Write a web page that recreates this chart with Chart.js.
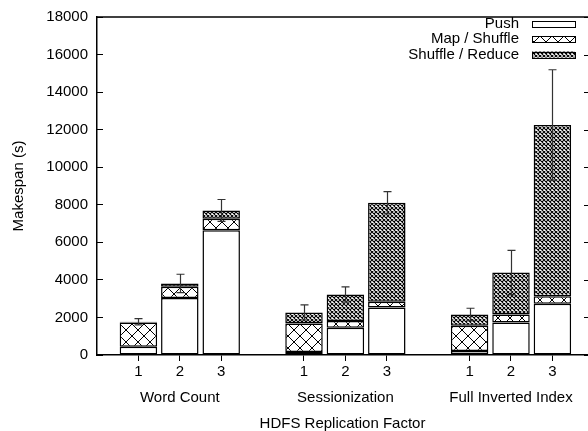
<!DOCTYPE html>
<html>
<head>
<meta charset="utf-8">
<script src="https://cdn.jsdelivr.net/npm/chart.js@4.4.1/dist/chart.umd.min.js"></script>
<style>
html,body{margin:0;padding:0;background:#fff;overflow:hidden;}
#wrap{width:588px;height:431px;position:relative;}
</style>
</head>
<body>
<div id="wrap"><canvas id="makespanChart"></canvas></div>
<script>

/* ==========================================
   DATA
========================================== */

const workloads = ["Word Count", "Sessionization", "Full Inverted Index"];
const replicas = ["1", "2", "3"];

// slot on the x axis for each bar (gap slot between workloads)
const slots = [0, 1, 2, 4, 5, 6, 8, 9, 10];
const groupSlots = [1, 5, 9];

const push          = [440, 3040, 6640, 160, 1450, 2530, 210, 1735, 2725];
const mapShuffle    = [1290, 590, 620, 1520, 355, 300, 1345, 425, 405];
const shuffleReduce = [40, 180, 440, 585, 1418, 5280, 605, 2230, 9120];
const errors        = [170, 490, 580, 400, 410, 590, 330, 1180, 2940];

const yTicks = [0, 2000, 4000, 6000, 8000, 10000, 12000, 14000, 16000, 18000];


/* ==========================================
   HATCH PATTERNS
========================================== */

function hatch(size, width){

const c = document.createElement("canvas");
c.width = size;
c.height = size;
const g = c.getContext("2d");

g.fillStyle = "#fff";
g.fillRect(0, 0, size, size);
g.strokeStyle = "#000";
g.lineWidth = width;
g.beginPath();
g.moveTo(0, 0); g.lineTo(size, size);
g.moveTo(size, 0); g.lineTo(0, size);
g.stroke();

return g.createPattern(c, "repeat");

}

const crossLarge = hatch(12, 1);
const crossSmall = hatch(4, 1.1);

const fontFamily = "'Liberation Sans', Arial, sans-serif";
const font = {family: fontFamily, size: 15};


/* ==========================================
   PLUGINS: ERROR BARS, FRAME, LEGEND
========================================== */

const errorBars = {
id: "errorBars",
afterDatasetsDraw(chart){

const {ctx, scales:{x, y}} = chart;

ctx.save();
ctx.strokeStyle = "#333";
ctx.lineWidth = 1.2;

slots.forEach((s, i) => {

const total = push[i] + mapShuffle[i] + shuffleReduce[i];
const px = Math.round(x.getPixelForValue(s)) + 0.5;
const top = y.getPixelForValue(total + errors[i]);
const bot = y.getPixelForValue(total - errors[i]);

ctx.beginPath();
ctx.moveTo(px, top); ctx.lineTo(px, bot);
ctx.moveTo(px - 4, top); ctx.lineTo(px + 4, top);
ctx.moveTo(px - 4, bot); ctx.lineTo(px + 4, bot);
ctx.stroke();

});

ctx.restore();

}
};

const frame = {
id: "frame",
afterDraw(chart){

const {ctx, chartArea:a, scales:{y}} = chart;

ctx.save();
ctx.strokeStyle = "#000";
ctx.lineWidth = 1.5;
ctx.beginPath();
ctx.moveTo(a.left, a.top);
ctx.lineTo(a.right + 2, a.top);
ctx.stroke();

ctx.lineWidth = 1;
yTicks.forEach(v => {
const py = Math.round(y.getPixelForValue(v)) + 0.5;
ctx.beginPath();
ctx.moveTo(a.right - 4, py);
ctx.lineTo(a.right + 2, py);
ctx.stroke();
});

ctx.restore();

}
};

const cornerLegend = {
id: "cornerLegend",
afterDraw(chart){

const {ctx, chartArea:a} = chart;

ctx.save();
ctx.font = "15px " + fontFamily;
ctx.textAlign = "right";
ctx.textBaseline = "middle";

chart.data.datasets.forEach((ds, i) => {

const cy = a.top + 6.5 + i * 15.5;
const boxRight = a.right - 13;
const boxLeft = boxRight - 43;

ctx.fillStyle = "#000";
ctx.fillText(ds.label, boxLeft - 13, cy);

ctx.fillStyle = ds.backgroundColor;
ctx.fillRect(boxLeft, cy - 3, 43, 6);
ctx.strokeStyle = "#000";
ctx.lineWidth = 1;
ctx.strokeRect(boxLeft + 0.5, Math.round(cy - 3) + 0.5, 43, 6);

});

ctx.restore();

}
};


/* ==========================================
   CHART
========================================== */

function points(values){
return values.map((v, i) => ({x: slots[i], y: v}));
}

const barStyle = {
borderColor: "#000",
borderWidth: 1.5,
borderSkipped: false,
barPercentage: 0.905,
categoryPercentage: 1
};

new Chart(document.getElementById("makespanChart"), {

type: "bar",

data: {
datasets: [
{label: "Push", data: points(push), backgroundColor: "#fff", ...barStyle},
{label: "Map / Shuffle", data: points(mapShuffle), backgroundColor: crossLarge, ...barStyle},
{label: "Shuffle / Reduce", data: points(shuffleReduce), backgroundColor: crossSmall, ...barStyle}
]
},

options: {

responsive: true,
maintainAspectRatio: false,
animation: false,

layout: {padding: {top: 17, right: 0, left: 0, bottom: 0}},

plugins: {
tooltip: {enabled: false},
legend: {display: false}
},

scales: {

x: {
type: "linear",
stacked: true,
offset: false,
min: -1,
max: 10.86,
afterBuildTicks: s => { s.ticks = slots.map(v => ({value: v})); },
ticks: {
color: "#000",
font: font,
padding: 2,
callback: v => replicas[slots.indexOf(v) % 3]
},
grid: {drawOnChartArea: false, offset: false, color: "#000", tickLength: 6},
border: {color: "#000", width: 1.5}
},

x2: {
type: "linear",
position: "bottom",
offset: false,
min: -1,
max: 10.86,
afterBuildTicks: s => { s.ticks = groupSlots.map(v => ({value: v})); },
ticks: {
color: "#000",
font: font,
padding: 6,
callback: v => workloads[groupSlots.indexOf(v)]
},
grid: {display: false, drawTicks: false, tickLength: 0},
border: {display: false},
title: {
display: true,
text: "HDFS Replication Factor",
color: "#000",
font: font,
padding: {top: 2, bottom: -2}
}
},

y: {
stacked: true,
min: 0,
max: 18000,
afterFit: s => { s.width = 97; s.paddingTop = 0; s.paddingBottom = 0; },
afterBuildTicks: s => { s.ticks = yTicks.map(v => ({value: v})); },
ticks: {
color: "#000",
font: font,
padding: 15,
callback: v => String(v)
},
grid: {drawOnChartArea: false, color: "#000", tickLength: -6},
border: {color: "#000", width: 1.5},
title: {
display: true,
text: "Makespan (s)",
color: "#000",
font: font,
padding: {top: 10, bottom: 0}
}
}

}

},

plugins: [errorBars, frame, cornerLegend]

});

</script>
</body>
</html>
